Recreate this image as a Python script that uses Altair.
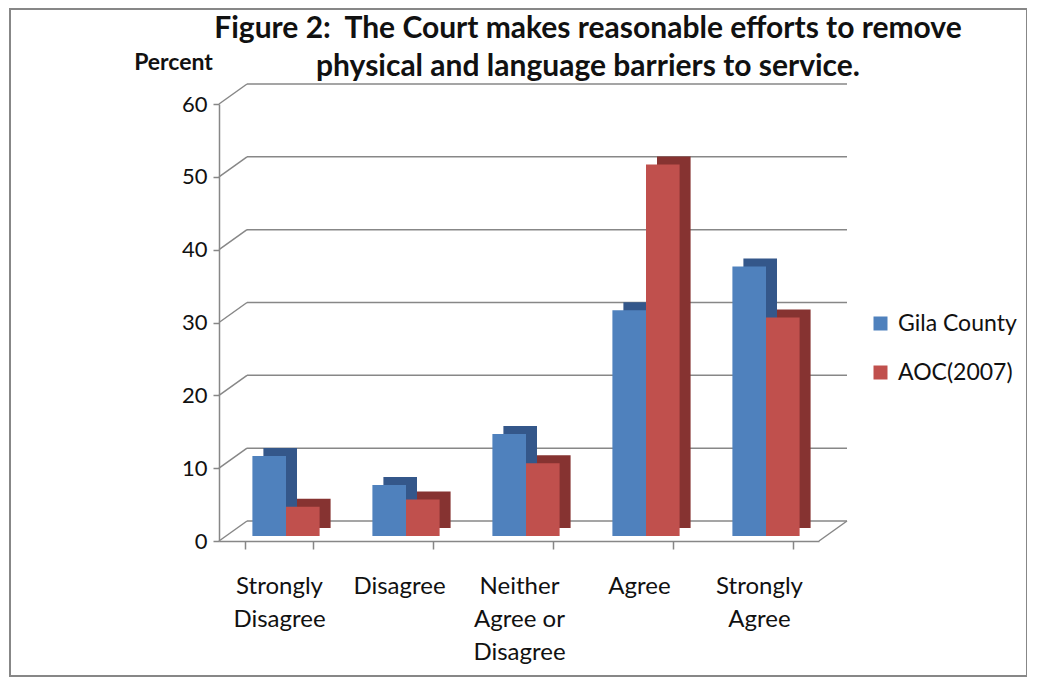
import altair as alt
import pandas as pd

categories = ["Strongly Disagree", "Disagree", "Neither Agree or Disagree", "Agree", "Strongly Agree"]
series_names = ["Gila County", "AOC(2007)"]
gila = [11, 7, 14, 31, 37]
aoc = [4, 5, 10, 51, 30]
y_ticks = [0, 10, 20, 30, 40, 50, 60]
title_lines = ["Figure 2:\u00a0 The Court makes reasonable efforts to remove",
               "physical and language barriers to service."]

rows = []
for c, g, a in zip(categories, gila, aoc):
    rows.append({"cat": c, "series": series_names[0], "value": g})
    rows.append({"cat": c, "series": series_names[1], "value": a})
df = pd.DataFrame(rows)
grid_df = pd.DataFrame({"value": y_ticks})
floor_df = pd.DataFrame({"value": [0]})

FONT = "Lato"
GRAY = "#878787"
DEPTH_X, DEPTH_Y = 28, -20  # 3-D wall depth (styling)

yscale = alt.Scale(domain=[0, 60])

x_enc = alt.X("cat:N", sort=categories,
              scale=alt.Scale(paddingInner=0.44, paddingOuter=0.22),
              axis=alt.Axis(title=None, labelAngle=0, tickBand="extent",
                            labelExpr="datum.label == 'Neither Agree or Disagree' ? ['Neither', 'Agree or', 'Disagree'] : split(datum.label, ' ')",
                            labelFontSize=24, labelFont=FONT, labelColor="#111",
                            labelLineHeight=33, labelPadding=25, tickSize=8,
                            tickColor=GRAY, tickWidth=1.5, domainColor=GRAY, domainWidth=1.5))
y_axis = alt.Axis(values=y_ticks, title="Percent", titleAngle=0,
                  titleX=-46, titleY=-42, titleAlign="center", titleBaseline="middle",
                  titleFont=FONT, titleFontSize=23, titleFontWeight="bold", titleColor="#111",
                  labelFont=FONT, labelFontSize=22, labelColor="#111", labelPadding=6,
                  tickSize=6, tickColor=GRAY, tickWidth=1.5,
                  domainColor=GRAY, domainWidth=1.5, grid=False)
y_enc = alt.Y("value:Q", scale=yscale, axis=y_axis)

# back wall gridlines
back_grid = alt.Chart(grid_df).mark_rule(color=GRAY, strokeWidth=1.5, yOffset=DEPTH_Y).encode(
    y=y_enc,
    x=alt.value(DEPTH_X), x2=alt.value(600 + DEPTH_X),
)
# left wall diagonals
side_grid = alt.Chart(grid_df).mark_rule(color=GRAY, strokeWidth=1.5, y2Offset=DEPTH_Y).encode(
    y=y_enc, y2="value:Q",
    x=alt.value(0), x2=alt.value(DEPTH_X),
)
# floor right edge
floor_edge = alt.Chart(floor_df).mark_rule(color=GRAY, strokeWidth=1.5, y2Offset=DEPTH_Y).encode(
    y=y_enc, y2="value:Q",
    x=alt.value(600), x2=alt.value(600 + DEPTH_X),
)

back = alt.Chart(df).mark_bar(yOffset=-13).encode(
    x=x_enc,
    xOffset=alt.XOffset("series:N", sort=series_names, scale=alt.Scale(range=[18, 85.2])),
    y=y_enc,
    color=alt.condition(alt.datum.series == series_names[0],
                        alt.value("#34578a"), alt.value("#863331")),
)

front = alt.Chart(df).mark_bar(yOffset=-5).encode(
    x=x_enc,
    xOffset=alt.XOffset("series:N", sort=series_names, scale=alt.Scale(range=[7, 74.2])),
    y=y_enc,
    color=alt.Color("series:N", sort=series_names,
                    scale=alt.Scale(domain=series_names, range=["#4f81bd", "#c0504d"]),
                    legend=alt.Legend(title=None, orient="none", legendX=650, legendY=208,
                                      symbolType="square", symbolSize=196, symbolStrokeWidth=0,
                                      labelFont=FONT, labelFontSize=23, labelColor="#111",
                                      rowPadding=25, labelOffset=6)),
)

frame = alt.Chart(alt.Data(values=[{"f": 1}])).mark_rect(
    filled=False, stroke=GRAY, strokeWidth=2
).encode(x=alt.value(-209), x2=alt.value(808), y=alt.value(-95), y2=alt.value(572))

chart = alt.layer(frame, back_grid, side_grid, floor_edge, back, front).resolve_scale(
    xOffset="independent"
).properties(
    width=600, height=437,
    title=alt.TitleParams(text=title_lines, font=FONT, fontSize=30, fontWeight="bold",
                          color="#111", anchor="middle", dx=69, offset=-74, lineHeight=38),
    autosize=alt.AutoSizeParams(type="none"),
    padding={"left": 211, "top": 96, "right": 208, "bottom": 137},
).configure_view(stroke=None)

chart.save("out.html", embed_options={"renderer": "svg", "actions": False})
